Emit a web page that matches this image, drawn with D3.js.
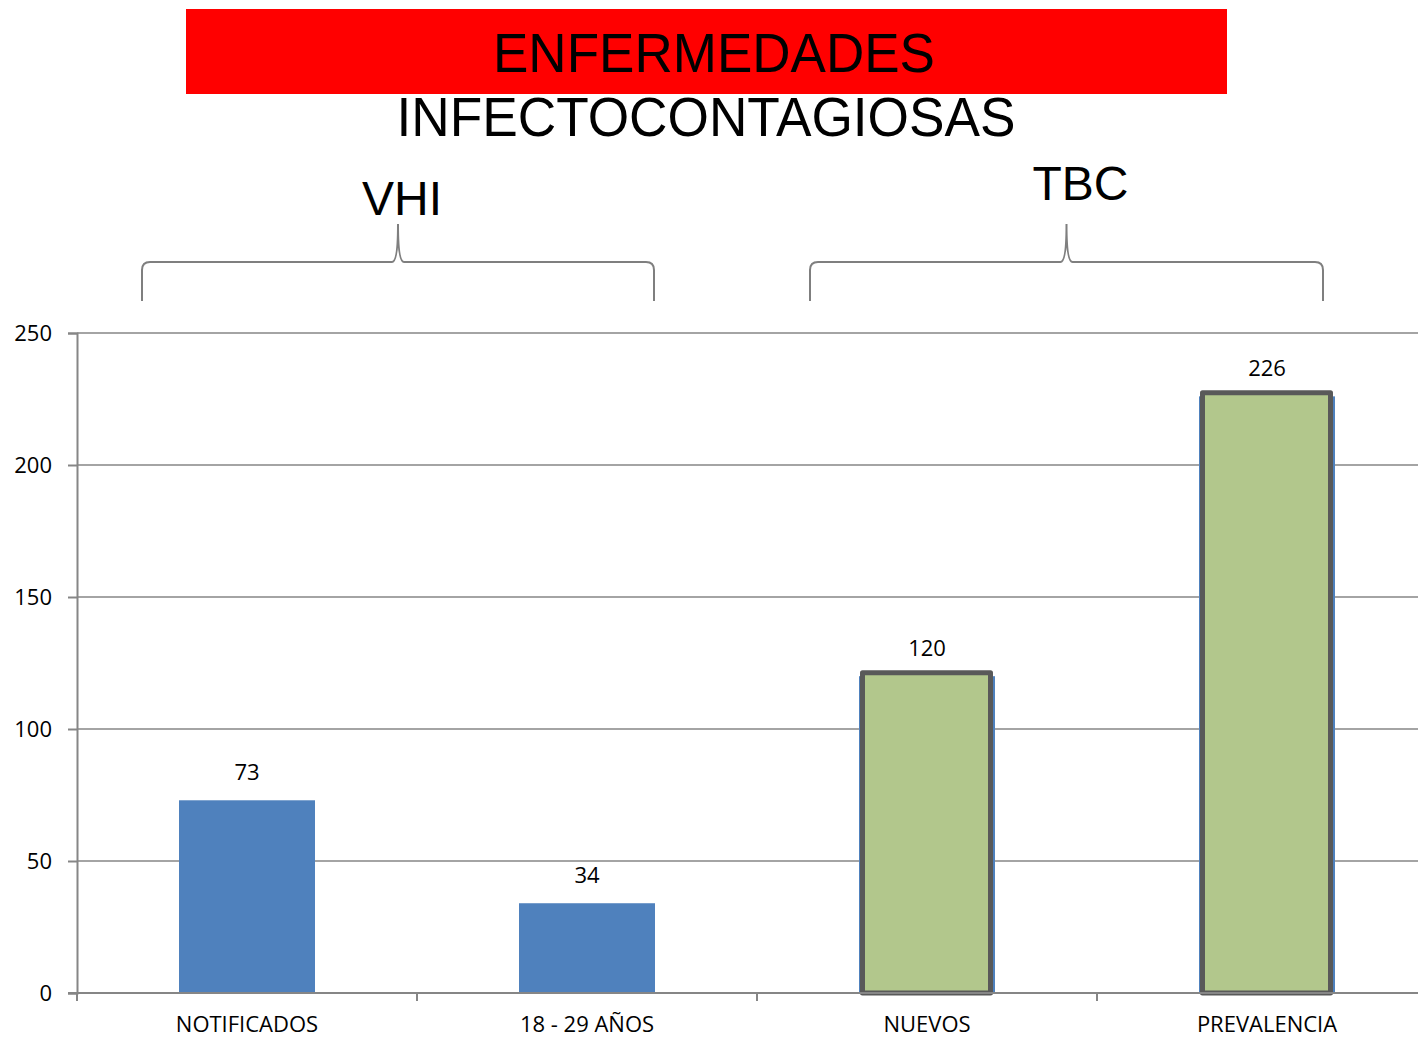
<!DOCTYPE html>
<html>
<head>
<meta charset="utf-8">
<script src="https://cdn.jsdelivr.net/npm/d3@7"></script>
<style>
  body { margin: 0; background: #fff; }
  svg text { font-family: 'Open Sans', 'Noto Sans', sans-serif; }
</style>
</head>
<body>
<script>
// chart values
const categories = ['NOTIFICADOS', '18 - 29 AÑOS', 'NUEVOS', 'PREVALENCIA']
const values = [73, 34, 120, 226]
const groups = ['VHI', 'VHI', 'TBC', 'TBC']
const yTicks = [0, 50, 100, 150, 200, 250]
const groupNames = ['VHI', 'TBC']

const width = 1418, height = 1039
const margin = {top: 333, left: 77, bottom: 46}

const svg = d3.select('body').append('svg')
    .attr('width', width)
    .attr('height', height)

let xScale = d3.scaleBand()
    .domain(categories)
    .range([margin.left, margin.left + 340 * categories.length])
    .paddingInner(0.6)
    .paddingOuter(0.3)

let yScale = d3.scaleLinear()
    .domain([0, 250])
    .range([height - margin.bottom, margin.top])

// title
svg.append('rect')
    .attr('x', 186).attr('y', 9)
    .attr('width', 1041).attr('height', 85)
    .style('fill', '#ff0000')

svg.append('text')
    .attr('x', 714).attr('y', 72)
    .attr('text-anchor', 'middle')
    .attr('textLength', 442).attr('lengthAdjust', 'spacingAndGlyphs')
    .style('font-family', "'Liberation Sans Narrow', 'Liberation Sans', sans-serif")
    .style('font-size', '55px')
    .text('ENFERMEDADES')

svg.append('text')
    .attr('x', 706).attr('y', 136)
    .attr('text-anchor', 'middle')
    .attr('textLength', 619).attr('lengthAdjust', 'spacingAndGlyphs')
    .style('font-family', "'Liberation Sans Narrow', 'Liberation Sans', sans-serif")
    .style('font-size', '55px')
    .text('INFECTOCONTAGIOSAS')

// gridlines + y axis
let yAxis = d3.axisLeft(yScale).tickValues(yTicks).tickSize(9).tickPadding(16)
let yg = svg.append('g').attr('transform', 'translate(' + margin.left + ',0)').call(yAxis)
yg.select('.domain').attr('stroke', '#868686').attr('stroke-width', 2)
yg.selectAll('.tick line').attr('stroke', '#868686').attr('stroke-width', 2)
yg.selectAll('.tick text').style('font-size', '22px').attr('fill', '#000')

svg.append('g').selectAll('line')
    .data(yTicks.filter(d => d > 0))
    .join('line')
    .attr('x1', margin.left).attr('x2', width)
    .attr('y1', d => yScale(d)).attr('y2', d => yScale(d))
    .attr('stroke', '#868686').attr('stroke-width', 1.5)

// bars (blue underneath, green overlay with border for TBC)
svg.append('g').selectAll('rect')
    .data(values)
    .join('rect')
    .attr('x', (d, i) => xScale(categories[i]))
    .attr('width', xScale.bandwidth())
    .attr('y', d => yScale(d))
    .attr('height', d => yScale(0) - yScale(d))
    .style('fill', '#4f81bd')

svg.append('g').selectAll('rect')
    .data(values.map((v, i) => ({v: v, c: categories[i], g: groups[i]})).filter(d => d.g === 'TBC'))
    .join('rect')
    .attr('x', d => xScale(d.c) + 3.5)
    .attr('width', xScale.bandwidth() - 8)
    .attr('y', d => yScale(d.v) - 3.5)
    .attr('height', d => yScale(0) - yScale(d.v) + 3.5)
    .style('fill', '#b2c78c')
    .style('stroke', '#595959')
    .style('stroke-width', 5)
    .style('stroke-linejoin', 'round')

// x axis
let xAxis = d3.axisBottom(xScale).tickSize(0).tickPadding(23)
let xg = svg.append('g').attr('transform', 'translate(0,' + yScale(0) + ')').call(xAxis)
xg.select('.domain').remove()
xg.selectAll('.tick text').style('font-size', '22px').attr('fill', '#000')
svg.append('line')
    .attr('x1', margin.left - 9).attr('x2', width)
    .attr('y1', yScale(0)).attr('y2', yScale(0))
    .attr('stroke', '#868686').attr('stroke-width', 2)
svg.append('g').selectAll('line')
    .data(categories)
    .join('line')
    .attr('x1', d => xScale(d) - xScale.step() * 0.3)
    .attr('x2', d => xScale(d) - xScale.step() * 0.3)
    .attr('y1', yScale(0)).attr('y2', yScale(0) + 8)
    .attr('stroke', '#868686').attr('stroke-width', 2)

// value labels
svg.append('g').selectAll('text')
    .data(values)
    .join('text')
    .attr('x', (d, i) => xScale(categories[i]) + xScale.bandwidth() / 2)
    .attr('y', d => yScale(d) - 20)
    .attr('text-anchor', 'middle')
    .style('font-size', '22px')
    .text(d => d)

// group braces
function brace(x1, x2, y, yEnd, yTip) {
    let m = (x1 + x2) / 2, r = 8
    return 'M' + x1 + ',' + yEnd +
        ' L' + x1 + ',' + (y + r) +
        ' Q' + x1 + ',' + y + ' ' + (x1 + r) + ',' + y +
        ' L' + (m - 6) + ',' + y +
        ' Q' + m + ',' + y + ' ' + m + ',' + (yTip + 2) +
        ' Q' + m + ',' + y + ' ' + (m + 6) + ',' + y +
        ' L' + (x2 - r) + ',' + y +
        ' Q' + x2 + ',' + y + ' ' + x2 + ',' + (y + r) +
        ' L' + x2 + ',' + yEnd
}

const braceShift = {VHI: [-37, -1], TBC: [-49, -12]}
const labelShift = {VHI: [4, 215], TBC: [14, 200]}

groupNames.forEach(g => {
    let cats = categories.filter((c, i) => groups[i] === g)
    let x1 = xScale(cats[0]) + braceShift[g][0]
    let x2 = xScale(cats[cats.length - 1]) + xScale.bandwidth() + braceShift[g][1]
    let m = (x1 + x2) / 2
    svg.append('path')
        .attr('d', brace(x1, x2, 262, 301, 222))
        .style('fill', 'none')
        .style('stroke', '#7f7f7f')
        .style('stroke-width', 2)
    svg.append('text')
        .attr('x', m + labelShift[g][0])
        .attr('y', labelShift[g][1])
        .attr('text-anchor', 'middle')
        .style('font-family', "'Liberation Sans', Arial, sans-serif")
        .style('font-size', '48px')
        .text(g)
})
</script>
</body>
</html>
